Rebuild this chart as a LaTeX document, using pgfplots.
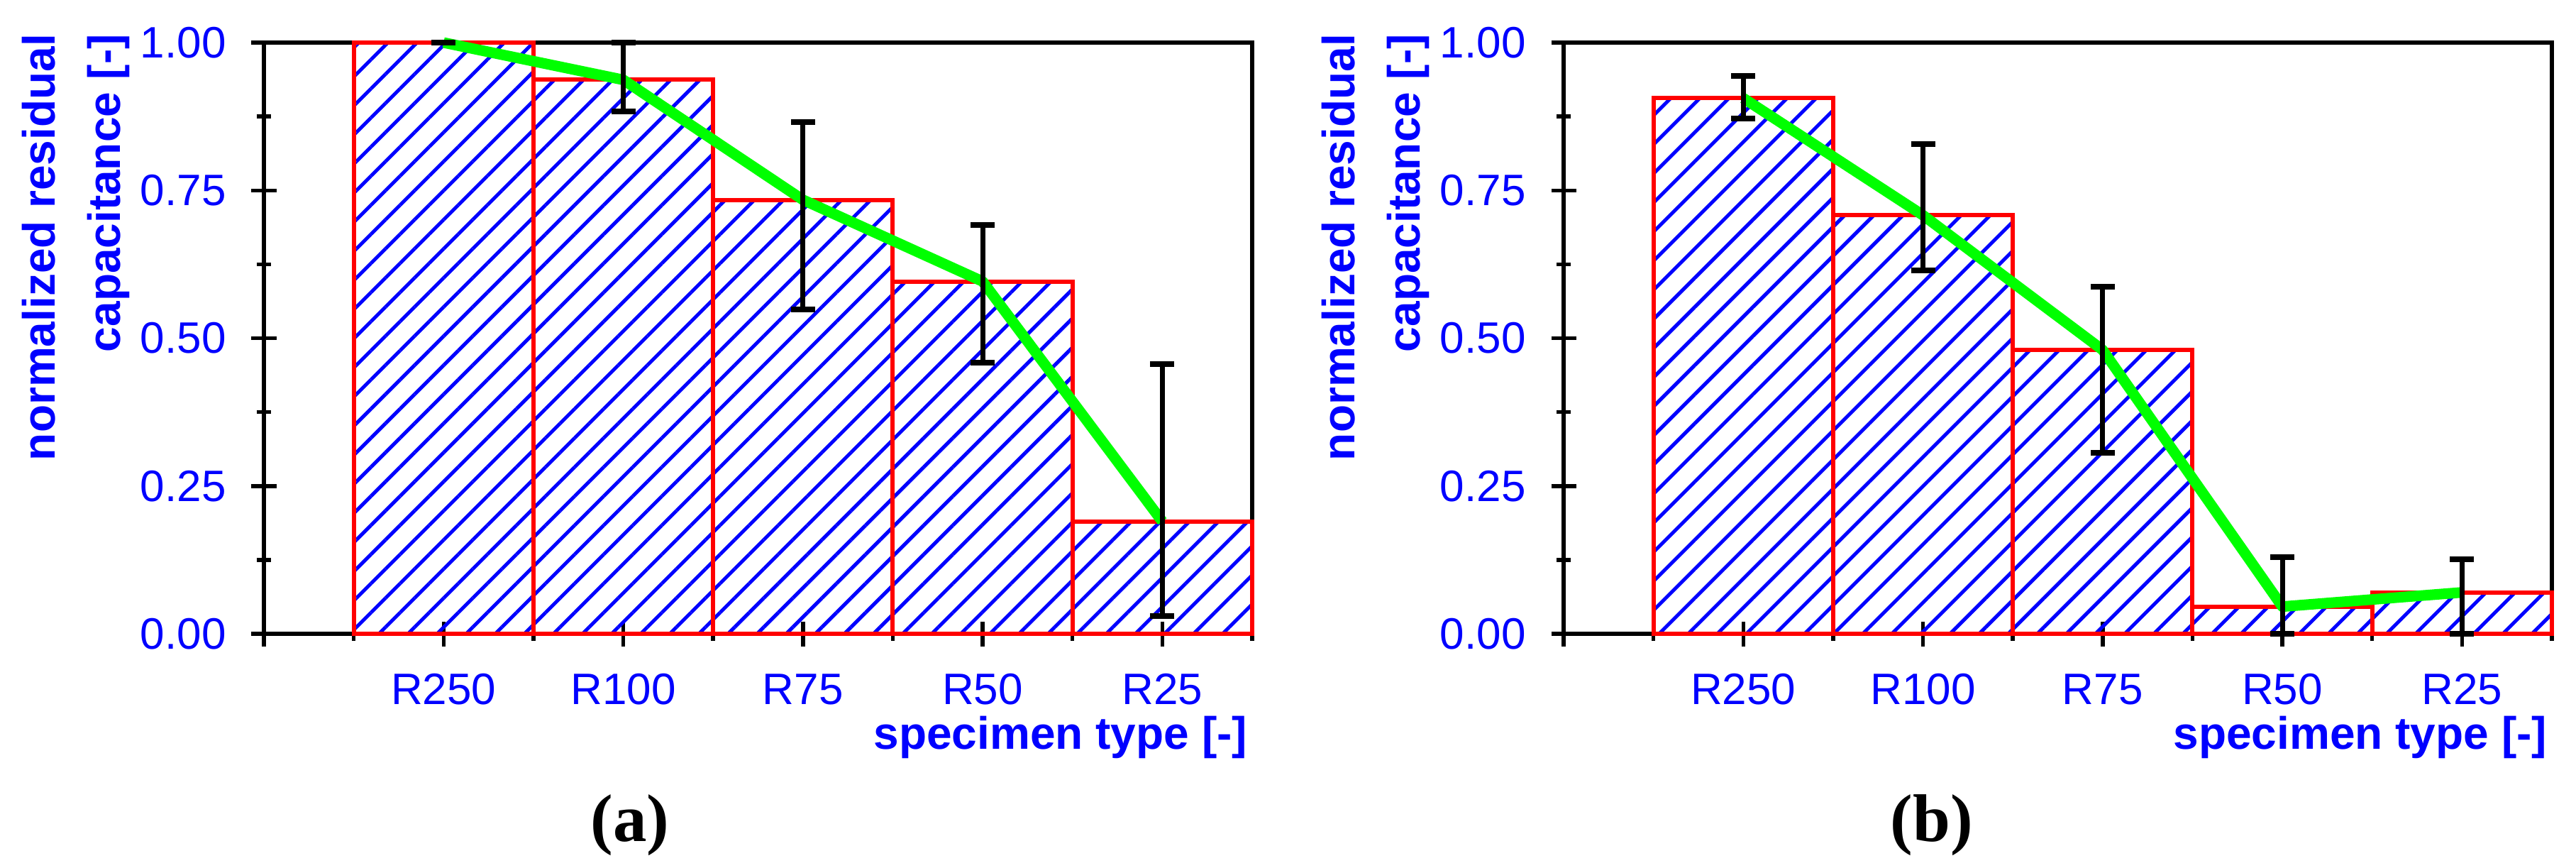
\documentclass[border=0pt]{standalone}
\usepackage{fontspec}
\setmainfont{Liberation Sans}
\newfontfamily\capfont{Liberation Serif}
\usepackage{pgfplots}
\pgfplotsset{compat=1.18}
\usetikzlibrary{patterns.meta}

\pgfplotsset{
  panel/.style={
    scale only axis, width=278.6pt, height=166.6pt,
    anchor=south west,
    xmin=-1, xmax=4.5, ymin=0, ymax=1,
    enlargelimits=false, clip=false,
    axis line style={line width=1.1pt, black},
    xtick={-1,0,1,2,3,4}, xticklabels={,R250,R100,R75,R50,R25},
    minor xtick={-0.5,0.5,1.5,2.5,3.5,4.5},
    ytick={0,0.25,0.5,0.75,1}, yticklabels={0.00,0.25,0.50,0.75,1.00},
    minor ytick={0.125,0.375,0.625,0.875},
    xtick pos=left, ytick pos=left,
    tick align=center,
    major tick length=7pt, minor tick length=4pt,
    major tick style={line width=1.1pt, black},
    minor tick style={line width=1.1pt, black},
    tick label style={font=\fontsize{12.4}{14}\selectfont, text=blue},
    xticklabel style={anchor=base, yshift=-16.4pt},
    yticklabel style={anchor=east, inner sep=0pt, xshift=-7pt},
  },
  bars/.style={ybar, bar width=1, bar shift=0pt, draw=red, line width=1.2pt,
    pattern={Lines[angle=45,distance=5.8pt,line width=1pt]}, pattern color=blue},
  meanline/.style={green, line width=3pt, mark=none, line join=round},
  errs/.style={draw=none, mark=none,
    error bars/.cd, y dir=both, y explicit,
    error bar style={draw=black, line width=1.4pt},
    error mark options={draw=black, line width=1.6pt, mark size=3.4pt, rotate=90}},
}
\tikzset{
  ylab/.style={rotate=90, anchor=east, align=right, text=blue, inner sep=0pt,
        font=\fontsize{12.8}{18.4}\selectfont\bfseries},
  xlab/.style={anchor=base east, text=blue, inner sep=0pt,
        font=\fontsize{12.8}{15}\selectfont\bfseries},
  sublab/.style={anchor=base, inner sep=0pt, font=\fontsize{19}{21}\selectfont\capfont\bfseries},
}

\begin{document}
\begin{tikzpicture}
\path[use as bounding box] (0,0) rectangle (726.2pt,244.4pt);

% ---------- panel (a) ----------
\begin{axis}[panel, at={(74.4pt,65.8pt)}]
\addplot[bars] coordinates {(0,1.000) (1,0.937) (2,0.734) (3,0.596) (4,0.190)};
\addplot[meanline] coordinates {(0,1.000) (1,0.937) (2,0.734) (3,0.596) (4,0.190)};
\addplot[errs] coordinates {
  (0,1.000) += (0,0.000) -= (0,0.000)
  (1,0.937) += (0,0.063) -= (0,0.053)
  (2,0.734) += (0,0.131) -= (0,0.185)
  (3,0.596) += (0,0.096) -= (0,0.137)
  (4,0.190) += (0,0.266) -= (0,0.160)
};
\end{axis}

% ---------- panel (b) ----------
\begin{axis}[panel, at={(440.8pt,65.8pt)}]
\addplot[bars] coordinates {(0,0.906) (1,0.708) (2,0.480) (3,0.046) (4,0.070)};
\addplot[meanline] coordinates {(0,0.906) (1,0.708) (2,0.480) (3,0.046) (4,0.070)};
\addplot[errs] coordinates {
  (0,0.906) += (0,0.037) -= (0,0.034)
  (1,0.708) += (0,0.120) -= (0,0.093)
  (2,0.480) += (0,0.107) -= (0,0.174)
  (3,0.046) += (0,0.084) -= (0,0.046)
  (4,0.070) += (0,0.056) -= (0,0.070)
};
\end{axis}

% axis titles
\node[ylab] at (21.4pt,235pt) {normalized residual\\capacitance [-]};
\node[ylab] at (387.8pt,235pt) {normalized residual\\capacitance [-]};
\node[xlab] at (351.8pt,33.4pt) {specimen type [-]};
\node[xlab] at (718.2pt,33.4pt) {specimen type [-]};
\node[sublab] at (177.6pt,7.4pt) {(a)};
\node[sublab] at (544.6pt,7.4pt) {(b)};
\end{tikzpicture}
\end{document}
